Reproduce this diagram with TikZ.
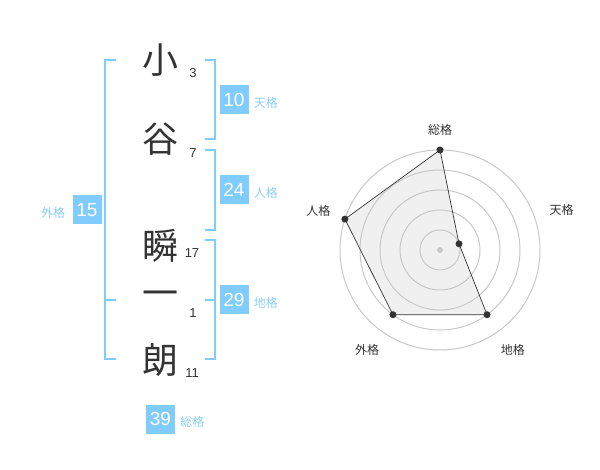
\documentclass[tikz,border=0pt]{standalone}
\usepackage{fontspec}
\setmainfont{Liberation Sans}
\newfontfamily\jp{Noto Sans CJK JP}
\usetikzlibrary{positioning}
\definecolor{kakublue}{HTML}{80CCFF}
\definecolor{labelblue}{HTML}{8ACFF5}
\definecolor{inkgray}{HTML}{333333}
\definecolor{ringgray}{HTML}{C8C8C8}
\definecolor{areagray}{HTML}{F0F0F0}
\tikzset{
  kanji/.style={inner sep=0pt, text=inkgray, font=\jp\fontsize{36}{36}\selectfont},
  strokes/.style={inner sep=0pt, text=inkgray, font=\fontsize{13}{13}\selectfont},
  bracket/.style={draw=kakublue, line width=2pt},
  kakubox/.style={fill=kakublue, text=white, minimum size=29pt, inner sep=0pt, font=\fontsize{19}{19}\selectfont},
  kakulabel/.style={inner sep=0pt, text=labelblue, font=\jp\fontsize{12}{12}\selectfont},
  axislabel/.style={inner sep=0pt, text=inkgray, font=\jp\fontsize{12}{12}\selectfont},
  ring/.style={draw=ringgray, line width=1pt}
}
\begin{document}
\begin{tikzpicture}[x=1pt,y=-1pt]
  \useasboundingbox (0,0) rectangle (600,470);
  % name
  \node[kanji] (c1) at (160,60) {小};
  \node[kanji] (c2) at (160,139) {谷};
  \node[kanji] (c3) at (160,246) {瞬};
  \node[kanji] (c4) at (160,299) {一};
  \node[kanji] (c5) at (160,360) {朗};
  \node[strokes] (n1) at (193,73) {3};
  \node[strokes] (n2) at (193,153) {7};
  \node[strokes] (n3) at (192,253) {17};
  \node[strokes] (n4) at (193,313) {1};
  \node[strokes] (n5) at (192,373) {11};
  % brackets
  \draw[bracket] (205,60) -- (215,60) -- (215,139) -- (205,139);
  \draw[bracket] (205,150) -- (215,150) -- (215,230) -- (205,230);
  \draw[bracket] (205,240) -- (215,240) -- (215,359) -- (205,359);
  \draw[bracket] (205,300) -- (215,300);
  \draw[bracket] (116,60) -- (105,60) -- (105,359) -- (116,359);
  \draw[bracket] (105,300) -- (116,300);
  % kakusu
  \node[kakubox] (ten) at (234,100) {10};
  \node[kakulabel, right=5pt of ten, yshift=-3pt] (tenL) {天格};
  \node[kakubox] (jin) at (234,190) {24};
  \node[kakulabel, right=5pt of jin, yshift=-3pt] (jinL) {人格};
  \node[kakubox] (chi) at (234,300) {29};
  \node[kakulabel, right=5pt of chi, yshift=-3pt] (chiL) {地格};
  \node[kakubox] (gai) at (87,210) {15};
  \node[kakulabel, left=7pt of gai, yshift=-3pt] (gaiL) {外格};
  \node[kakubox] (sou) at (160.5,419) {39};
  \node[kakulabel, right=5pt of sou, yshift=-3pt] (souL) {総格};
  % radar
  \begin{scope}[shift={(440,250)}]
    \coordinate (pSou) at (-90:100);
    \coordinate (pTen) at (-18:20);
    \coordinate (pChi) at (54:80);
    \coordinate (pGai) at (126:80);
    \coordinate (pJin) at (198:100);
    \fill[areagray] (pSou) -- (pTen) -- (pChi) -- (pGai) -- (pJin) -- cycle;
    \foreach \r in {20,40,...,100}
      \draw[ring] (0,0) circle (\r);
    \fill[ringgray] (0,0) circle (3);
    \draw[inkgray, line width=0.7pt] (pSou) -- (pTen) -- (pChi) -- (pGai) -- (pJin) -- cycle;
    \foreach \p in {pSou,pTen,pChi,pGai,pJin}
      \fill[inkgray] (\p) circle (3.5);
    \node[axislabel] (aSou) at (-90:120) {総格};
    \node[axislabel] (aTen) at (-18:128) {天格};
    \node[axislabel] (aChi) at (54:124) {地格};
    \node[axislabel] (aGai) at (126:124) {外格};
    \node[axislabel] (aJin) at (198:128) {人格};
  \end{scope}
\end{tikzpicture}
\end{document}
